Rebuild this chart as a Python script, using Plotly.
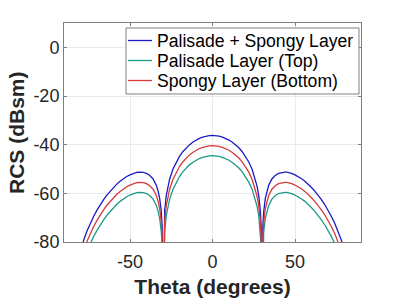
import plotly.graph_objects as go

theta = [-82, -80, -78, -76, -74, -72, -70, -68, -66, -64, -62, -60, -58, -56, -54, -52,
         -50, -48, -46, -45, -44, -42, -40, -38, -36, -34, -33, -32, -31, -30.5, -30, -29.5,
         -29, -28, -27, -26, -24, -22, -20, -18, -16, -14, -12, -10, -8, -6, -4, -2, 0,
         2, 4, 6, 8, 10, 12, 14, 16, 18, 20, 22, 24, 26, 27, 28, 29, 29.5, 30, 30.5,
         31, 32, 33, 34, 36, 38, 40, 42, 44, 45, 46, 48, 50, 52, 54, 56, 58, 60, 62, 64,
         66, 68, 70, 72, 74, 76, 78, 80, 82]

rcs_both = [-89.0, -83.6, -79.1, -75.4, -72.2, -69.4, -66.9, -64.6, -62.6, -60.7, -59.1, -57.6,
            -56.2, -55.0, -54.0, -53.1, -52.4, -51.8, -51.4, -51.3, -51.3, -51.4, -51.8, -52.7,
            -54.1, -56.8, -59.0, -62.1, -67.8, -73.7, -140.0, -73.4, -67.2, -60.8, -57.0, -54.2,
            -50.1, -47.1, -44.8, -42.9, -41.3, -40.1, -39.0, -38.1, -37.4, -36.9, -36.5, -36.3,
            -36.2,
            -36.3, -36.5, -36.9, -37.4, -38.1, -39.0, -40.1, -41.3, -42.9, -44.8, -47.1, -50.1,
            -54.2, -57.0, -60.8, -67.2, -73.4, -140.0, -73.7, -67.8, -62.1, -59.0, -56.8, -54.1,
            -52.7, -51.8, -51.4, -51.3, -51.3, -51.4, -51.8, -52.4, -53.1, -54.0, -55.0, -56.2,
            -57.6, -59.1, -60.7, -62.6, -64.6, -66.9, -69.4, -72.2, -75.4, -79.1, -83.6, -89.0]

rcs_palisade = [-97.3, -91.9, -87.4, -83.7, -80.5, -77.7, -75.2, -72.9, -70.9, -69.0, -67.4,
                -65.9, -64.5, -63.3, -62.3, -61.4, -60.7, -60.1, -59.7, -59.6, -59.6, -59.7,
                -60.1, -61.0, -62.4, -65.1, -67.3, -70.4, -76.1, -82.0, -140.0, -81.7, -75.5,
                -69.1, -65.3, -62.5, -58.4, -55.4, -53.1, -51.2, -49.6, -48.3, -47.3, -46.4,
                -45.7, -45.2, -44.8, -44.6, -44.5,
                -44.6, -44.8, -45.2, -45.7, -46.4, -47.3, -48.3, -49.6, -51.2, -53.1, -55.4,
                -58.4, -62.5, -65.3, -69.1, -75.5, -81.7, -140.0, -82.0, -76.1, -70.4, -67.3,
                -65.1, -62.4, -61.0, -60.1, -59.7, -59.6, -59.6, -59.7, -60.1, -60.7, -61.4,
                -62.3, -63.3, -64.5, -65.9, -67.4, -69.0, -70.9, -72.9, -75.2, -77.7, -80.5,
                -83.7, -87.4, -91.9, -97.3]

rcs_spongy = [-93.2, -87.8, -83.3, -79.6, -76.4, -73.6, -71.1, -68.8, -66.8, -64.9, -63.3,
              -61.8, -60.4, -59.2, -58.2, -57.3, -56.6, -56.0, -55.6, -55.5, -55.5, -55.6,
              -56.0, -56.9, -58.3, -61.0, -63.2, -66.3, -72.0, -77.9, -140.0, -77.6, -71.4,
              -65.0, -61.2, -58.4, -54.3, -51.3, -49.0, -47.1, -45.5, -44.2, -43.2, -42.3,
              -41.6, -41.1, -40.7, -40.5, -40.4,
              -40.5, -40.7, -41.1, -41.6, -42.3, -43.2, -44.2, -45.5, -47.1, -49.0, -51.3,
              -54.3, -58.4, -61.2, -65.0, -71.4, -77.6, -140.0, -77.9, -72.0, -66.3, -63.2,
              -61.0, -58.3, -56.9, -56.0, -55.6, -55.5, -55.5, -55.6, -56.0, -56.6, -57.3,
              -58.2, -59.2, -60.4, -61.8, -63.3, -64.9, -66.8, -68.8, -71.1, -73.6, -76.4,
              -79.6, -83.3, -87.8, -93.2]

names = ["Palisade + Spongy Layer", "Palisade Layer (Top)", "Spongy Layer (Bottom)"]
colors = ["#1a1ac4", "#1a9a88", "#d63a3a"]
series = [rcs_both, rcs_palisade, rcs_spongy]
x_ticks = [-50, 0, 50]
y_ticks = [-80, -60, -40, -20, 0]

FONT = "Liberation Sans, Arial, sans-serif"
TXT = "#262626"

fig = go.Figure()
for nm, col, ys in zip(names, colors, series):
    fig.add_trace(go.Scatter(x=theta, y=ys, name=nm, mode="lines",
                             line=dict(color=col, width=1.3)))

axis_common = dict(showgrid=True, gridcolor="#ebebeb", gridwidth=1,
                   showline=True, linecolor="#808080", linewidth=1, mirror="ticks",
                   ticks="inside", ticklen=3, tickcolor="#808080", automargin=False,
                   zeroline=False, tickfont=dict(family=FONT, size=18, color=TXT))

fig.update_xaxes(range=[-90, 90], tickvals=x_ticks, ticktext=[str(v) for v in x_ticks],
                 ticklabelstandoff=3,
                 title=dict(text="<b>Theta (degrees)</b>", font=dict(family=FONT, size=21, color=TXT),
                            standoff=8),
                 **axis_common)
fig.update_yaxes(range=[-80, 10], tickvals=y_ticks, ticktext=[str(v) for v in y_ticks],
                 **axis_common)

# pixel helpers relative to the plot area (64..361 x 23..242)
PLOT_W, PLOT_H = 297.0, 219.0
def px(x):
    return (x - 64) / PLOT_W
def py(y):
    return (242 - y) / PLOT_H

shapes = [dict(type="rect", xref="paper", yref="paper",
               x0=px(126), x1=px(359), y0=py(94), y1=py(28),
               line=dict(color="#808080", width=1), fillcolor="white", layer="above")]
annotations = [dict(text="<b>RCS (dBsm)</b>", xref="paper", yref="paper",
                    x=px(16), y=py(132), xanchor="center", yanchor="middle",
                    textangle=-90, showarrow=False,
                    font=dict(family=FONT, size=21, color=TXT))]
row_y = [40.5, 60.5, 80.5]
for nm, col, ry in zip(names, colors, row_y):
    shapes.append(dict(type="line", xref="paper", yref="paper",
                       x0=px(128), x1=px(152), y0=py(ry), y1=py(ry),
                       line=dict(color=col, width=1.3), layer="above"))
    annotations.append(dict(text=nm, xref="paper", yref="paper", x=px(154.5), y=py(ry + 0.5),
                            xanchor="left", yanchor="middle", showarrow=False,
                            font=dict(family=FONT, size=17.6, color="#000000")))

fig.update_layout(
    width=399, height=299,
    margin=dict(l=64, r=38, t=23, b=57),
    paper_bgcolor="white", plot_bgcolor="white",
    font=dict(family=FONT, color=TXT),
    showlegend=False,
    shapes=shapes, annotations=annotations,
)

fig.write_html("out.html", config={"displayModeBar": False},
               post_script="document.body.style.margin='0px';document.body.style.overflow='hidden';")
